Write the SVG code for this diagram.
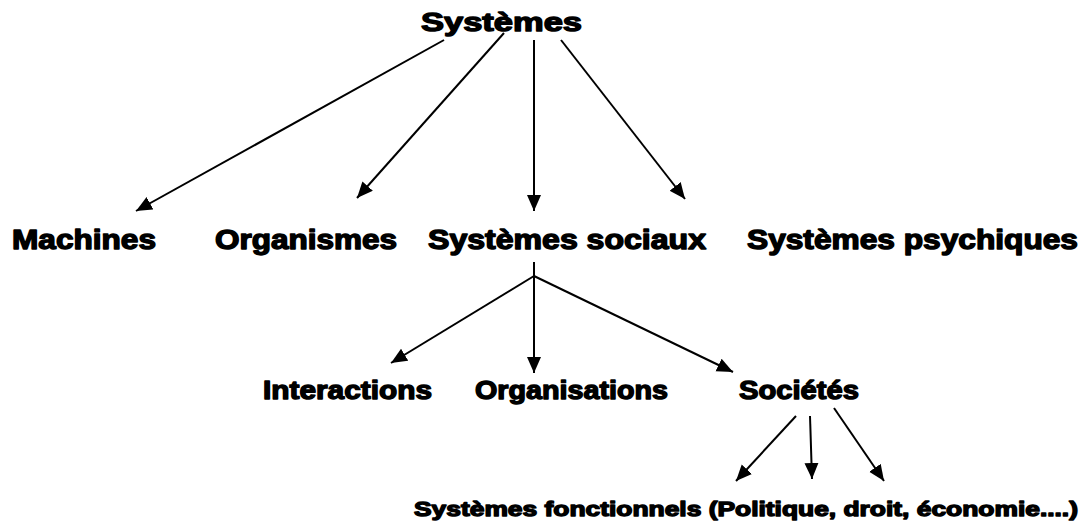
<svg xmlns="http://www.w3.org/2000/svg" width="1087" height="525" viewBox="0 0 1087 525">
<style>
.t{font-family:"Liberation Sans",Arial,sans-serif;font-weight:bold;fill:#000;stroke:#000;stroke-width:1.4;stroke-linejoin:round}
.c line{stroke:#000;stroke-width:2;fill:none}
</style>
<defs>
<marker id="ah" markerUnits="userSpaceOnUse" markerWidth="18" markerHeight="16" refX="16" refY="7" orient="auto">
<path d="M0,0 L16,7 L0,14 z" fill="#000"/>
</marker>
</defs>
<rect width="1087" height="525" fill="#fff"/>
<g id="connectors" class="c">
<line x1="444" y1="40" x2="136" y2="211" marker-end="url(#ah)"/>
<line x1="504" y1="33" x2="357" y2="198" marker-end="url(#ah)"/>
<line x1="534" y1="40" x2="534" y2="211" marker-end="url(#ah)"/>
<line x1="561" y1="40" x2="685" y2="199" marker-end="url(#ah)"/>
<line x1="534" y1="262" x2="534" y2="373" marker-end="url(#ah)"/>
<line x1="534" y1="276" x2="391" y2="363" marker-end="url(#ah)"/>
<line x1="534" y1="276" x2="733" y2="372" marker-end="url(#ah)"/>
<line x1="796" y1="416" x2="736" y2="481" marker-end="url(#ah)"/>
<line x1="810" y1="416" x2="812" y2="479" marker-end="url(#ah)"/>
<line x1="834" y1="408" x2="884" y2="481" marker-end="url(#ah)"/>
</g>
<g id="n-systemes"><text class="t" x="421" y="31" font-size="26" textLength="161" lengthAdjust="spacingAndGlyphs">Systèmes</text></g>
<g id="n-machines"><text class="t" x="12" y="249" font-size="27" textLength="144" lengthAdjust="spacingAndGlyphs">Machines</text></g>
<g id="n-organismes"><text class="t" x="215" y="249" font-size="27" textLength="182" lengthAdjust="spacingAndGlyphs">Organismes</text></g>
<g id="n-sociaux"><text class="t" x="428" y="249" font-size="27" textLength="278" lengthAdjust="spacingAndGlyphs">Systèmes sociaux</text></g>
<g id="n-psychiques"><text class="t" x="747" y="249" font-size="27" textLength="331" lengthAdjust="spacingAndGlyphs">Systèmes psychiques</text></g>
<g id="n-interactions"><text class="t" x="263" y="399" font-size="26" textLength="169" lengthAdjust="spacingAndGlyphs">Interactions</text></g>
<g id="n-organisations"><text class="t" x="475" y="399" font-size="26" textLength="193" lengthAdjust="spacingAndGlyphs">Organisations</text></g>
<g id="n-societes"><text class="t" x="739" y="399" font-size="26" textLength="120" lengthAdjust="spacingAndGlyphs">Sociétés</text></g>
<g id="n-fonctionnels"><text class="t" x="414" y="516" font-size="21" stroke-width="1.1" textLength="664" lengthAdjust="spacingAndGlyphs">Systèmes fonctionnels (Politique, droit, économie....)</text></g>
</svg>
